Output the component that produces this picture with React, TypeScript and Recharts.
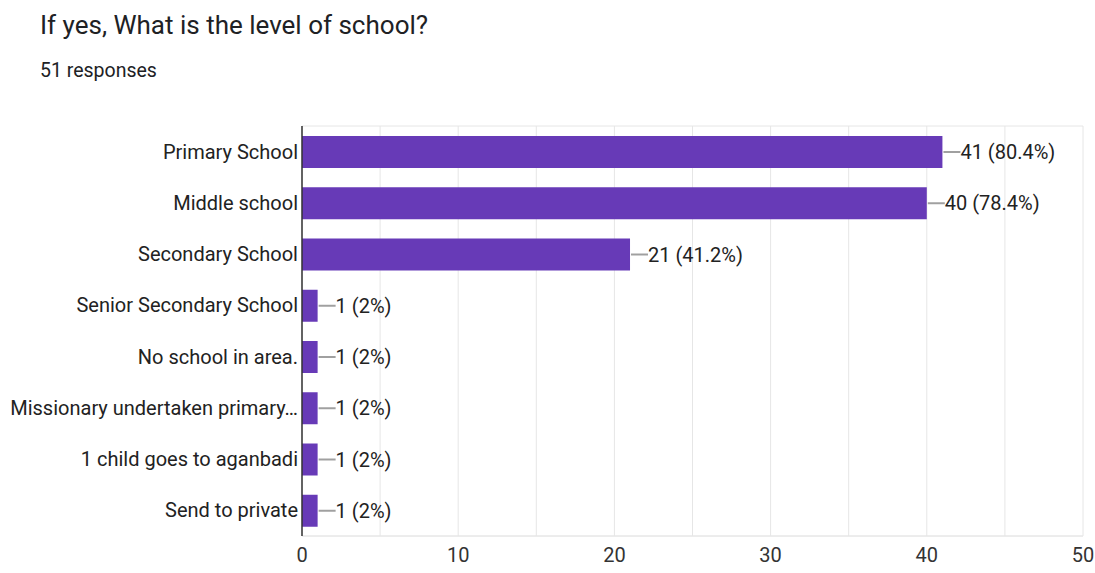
import { Bar, BarChart, CartesianGrid, LabelList, XAxis, YAxis } from "recharts";

const categories = [
  "Primary School",
  "Middle school",
  "Secondary School",
  "Senior Secondary School",
  "No school in area.",
  "Missionary undertaken primary…",
  "1 child goes to aganbadi",
  "Send to private",
];
const counts = [41, 40, 21, 1, 1, 1, 1, 1];
const percents = [80.4, 78.4, 41.2, 2, 2, 2, 2, 2];
const xTicks = [0, 5, 10, 15, 20, 25, 30, 35, 40, 45, 50];

const rows = categories.map((name, i) => ({
  name,
  count: counts[i],
  label: `${counts[i]} (${percents[i]}%)`,
}));

const FONT = "Roboto, 'Noto Sans', Arial, sans-serif";
const PURPLE = "#673ab7";

// value label with a short grey leader line from the bar end
function ValueLabel(props: any) {
  const { x, y, width, height, value } = props;
  const endX = x + width;
  const cy = y + height / 2;
  return (
    <g>
      <line x1={endX + 1} y1={cy} x2={endX + 18} y2={cy} stroke="#a0a0a0" strokeWidth={2} />
      <text x={endX + 18} y={cy} dy="0.36em" fill="#222" fontSize={20} fontFamily={FONT}>
        {value}
      </text>
    </g>
  );
}

export default function App() {
  return (
    <div style={{ position: "absolute", left: 0, top: 0, width: 1095, height: 573, background: "#fff", fontFamily: FONT }}>
      <div style={{ position: "absolute", left: 40, top: 10, fontSize: 26, color: "#202124", whiteSpace: "nowrap" }}>
        If yes, What is the level of school?
      </div>
      <div style={{ position: "absolute", left: 40, top: 59, fontSize: 19.5, color: "#202124" }}>51 responses</div>
      <BarChart
        width={1095}
        height={573}
        layout="vertical"
        data={rows}
        margin={{ top: 126, right: 12, bottom: 7, left: 0 }}
      >
        <CartesianGrid
          stroke="#e6e6e6"
          horizontalCoordinatesGenerator={({ offset }: any) => [offset.top, offset.top + offset.height]}
        />
        <XAxis
          type="number"
          domain={[0, 50]}
          ticks={xTicks}
          interval={0}
          height={30}
          tickFormatter={(v: number) => (v % 10 === 0 ? String(v) : "")}
          axisLine={{ stroke: "#e6e6e6" }}
          tickLine={false}
          tickSize={0}
          tickMargin={12}
          tick={{ fill: "#333", fontSize: 20, fontFamily: FONT }}
        />
        <YAxis
          type="category"
          dataKey="name"
          width={302}
          interval={0}
          axisLine={{ stroke: "#333", strokeWidth: 1.5 }}
          tickLine={false}
          tickSize={0}
          tickMargin={4}
          tick={{ fill: "#222", fontSize: 20, fontFamily: FONT }}
        />
        <Bar dataKey="count" fill={PURPLE} barSize={32} isAnimationActive={false}>
          <LabelList dataKey="label" content={ValueLabel} />
        </Bar>
      </BarChart>
    </div>
  );
}
